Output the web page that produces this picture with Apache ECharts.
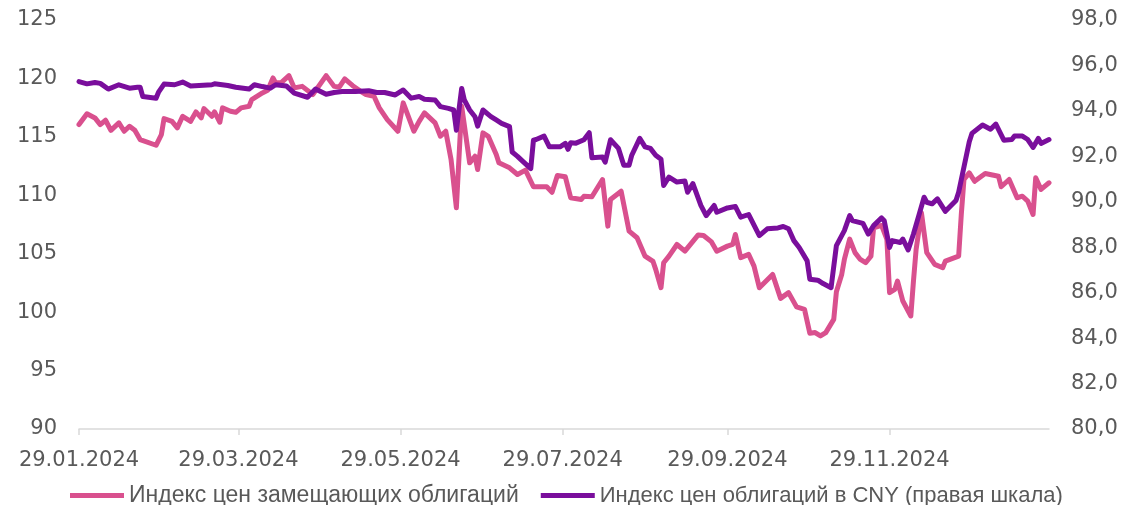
<!DOCTYPE html>
<html>
<head>
<meta charset="utf-8">
<script src="https://cdn.jsdelivr.net/npm/echarts@6/dist/echarts.min.js"></script>
<style>
  html, body { margin: 0; padding: 0; background: #fff; }
  #chart { width: 1125px; height: 505px; }
</style>
</head>
<body>
<div id="chart"></div>
<script>
// подписи оси X
const tickLabels = ['29.01.2024', '29.03.2024', '29.05.2024', '29.07.2024', '29.09.2024', '29.11.2024'];

// Индекс цен замещающих облигаций (левая шкала)
const pinkDates = [
  '29.01.2024','01.02.2024','04.02.2024','06.02.2024','08.02.2024','10.02.2024','13.02.2024','15.02.2024','17.02.2024','19.02.2024',
  '21.02.2024','27.02.2024','29.02.2024','01.03.2024','04.03.2024','06.03.2024','08.03.2024','11.03.2024','13.03.2024','15.03.2024',
  '16.03.2024','19.03.2024','20.03.2024','22.03.2024','23.03.2024','26.03.2024','28.03.2024','30.03.2024','02.04.2024','03.04.2024',
  '07.04.2024','09.04.2024','11.04.2024','12.04.2024','14.04.2024','17.04.2024','19.04.2024','22.04.2024','26.04.2024','01.05.2024',
  '04.05.2024','06.05.2024','08.05.2024','11.05.2024','14.05.2024','16.05.2024','19.05.2024','21.05.2024','24.05.2024','28.05.2024',
  '30.05.2024','03.06.2024','05.06.2024','07.06.2024','11.06.2024','13.06.2024','15.06.2024','17.06.2024','19.06.2024','21.06.2024',
  '24.06.2024','26.06.2024','27.06.2024','29.06.2024','01.07.2024','04.07.2024','05.07.2024','09.07.2024','12.07.2024','15.07.2024',
  '18.07.2024','23.07.2024','25.07.2024','27.07.2024','30.07.2024','01.08.2024','05.08.2024','06.08.2024','09.08.2024','13.08.2024',
  '15.08.2024','16.08.2024','20.08.2024','23.08.2024','26.08.2024','29.08.2024','01.09.2024','02.09.2024','04.09.2024','05.09.2024',
  '07.09.2024','10.09.2024','13.09.2024','18.09.2024','20.09.2024','23.09.2024','25.09.2024','29.09.2024','01.10.2024','02.10.2024',
  '04.10.2024','07.10.2024','09.10.2024','11.10.2024','16.10.2024','19.10.2024','22.10.2024','25.10.2024','28.10.2024','30.10.2024',
  '01.11.2024','03.11.2024','05.11.2024','08.11.2024','09.11.2024','11.11.2024','12.11.2024','14.11.2024','16.11.2024','18.11.2024',
  '20.11.2024','22.11.2024','23.11.2024','26.11.2024','28.11.2024','29.11.2024','01.12.2024','02.12.2024','04.12.2024','07.12.2024',
  '08.12.2024','09.12.2024','11.12.2024','13.12.2024','16.12.2024','19.12.2024','20.12.2024','25.12.2024','26.12.2024','27.12.2024',
  '29.12.2024','31.12.2024','04.01.2025','09.01.2025','10.01.2025','13.01.2025','16.01.2025','18.01.2025','20.01.2025','22.01.2025',
  '23.01.2025','25.01.2025','28.01.2025'
];
const pinkValues = [
  116.05,116.97,116.62,116.05,116.42,115.56,116.2,115.48,115.91,115.56,
  114.77,114.28,115.2,116.56,116.33,115.77,116.76,116.33,117.14,116.62,
  117.42,116.76,117.14,116.25,117.48,117.19,117.1,117.48,117.62,118.19,
  118.76,118.98,120.04,119.62,119.62,120.24,119.19,119.32,118.62,120.24,
  119.32,119.27,119.96,119.38,118.9,118.62,118.47,117.48,116.48,115.48,
  117.91,115.48,116.33,117.05,116.2,115.05,115.48,113.06,108.93,117.62,
  112.78,113.34,112.2,115.34,115.05,113.49,112.78,112.35,111.78,112.15,
  110.73,110.73,110.26,111.69,111.58,109.79,109.64,109.92,109.87,111.35,
  107.36,109.64,110.35,106.93,106.37,104.79,104.34,103.66,102.09,104.23,
  104.79,105.79,105.22,106.61,106.56,106.01,105.22,105.65,105.79,106.65,
  104.66,104.94,103.94,102.09,103.23,101.18,101.67,100.45,100.24,98.19,
  98.25,97.96,98.25,99.38,101.74,103.23,104.51,106.25,105.09,104.51,
  104.23,104.79,107.22,107.42,106.22,101.67,101.95,102.66,100.95,99.67,
  102.66,105.37,108.5,105.09,104.09,103.8,104.37,104.79,108.36,111.35,
  111.92,111.2,111.86,111.63,110.73,111.35,109.79,109.92,109.5,108.36,
  111.5,110.5,111.07
];

// Индекс цен облигаций в CNY (правая шкала)
const cnyDates = [
  '29.01.2024','01.02.2024','04.02.2024','06.02.2024','09.02.2024','13.02.2024','17.02.2024','20.02.2024','21.02.2024','22.02.2024',
  '27.02.2024','28.02.2024','01.03.2024','05.03.2024','08.03.2024','11.03.2024','19.03.2024','20.03.2024','25.03.2024','28.03.2024',
  '02.04.2024','04.04.2024','07.04.2024','10.04.2024','12.04.2024','16.04.2024','19.04.2024','24.04.2024','27.04.2024','01.05.2024',
  '04.05.2024','07.05.2024','12.05.2024','17.05.2024','20.05.2024','23.05.2024','27.05.2024','30.05.2024','02.06.2024','05.06.2024',
  '07.06.2024','11.06.2024','13.06.2024','16.06.2024','18.06.2024','19.06.2024','21.06.2024','22.06.2024','24.06.2024','26.06.2024',
  '27.06.2024','29.06.2024','02.07.2024','04.07.2024','06.07.2024','09.07.2024','10.07.2024','12.07.2024','14.07.2024','17.07.2024',
  '18.07.2024','19.07.2024','22.07.2024','24.07.2024','28.07.2024','30.07.2024','31.07.2024','01.08.2024','03.08.2024','06.08.2024',
  '08.08.2024','09.08.2024','13.08.2024','14.08.2024','16.08.2024','19.08.2024','21.08.2024','23.08.2024','24.08.2024','27.08.2024',
  '29.08.2024','31.08.2024','02.09.2024','04.09.2024','05.09.2024','07.09.2024','10.09.2024','13.09.2024','14.09.2024','16.09.2024',
  '19.09.2024','21.09.2024','24.09.2024','25.09.2024','29.09.2024','02.10.2024','04.10.2024','07.10.2024','11.10.2024','14.10.2024',
  '18.10.2024','20.10.2024','22.10.2024','24.10.2024','26.10.2024','29.10.2024','30.10.2024','02.11.2024','04.11.2024','07.11.2024',
  '09.11.2024','12.11.2024','14.11.2024','15.11.2024','19.11.2024','21.11.2024','23.11.2024','26.11.2024','27.11.2024','29.11.2024',
  '30.11.2024','03.12.2024','04.12.2024','06.12.2024','08.12.2024','10.12.2024','12.12.2024','13.12.2024','15.12.2024','17.12.2024',
  '20.12.2024','24.12.2024','25.12.2024','27.12.2024','29.12.2024','30.12.2024','03.01.2025','06.01.2025','08.01.2025','11.01.2025',
  '14.01.2025','15.01.2025','18.01.2025','20.01.2025','22.01.2025','24.01.2025','25.01.2025','28.01.2025'
];
const cnyValues = [
  95.29,95.19,95.25,95.21,94.96,95.15,95.0,95.04,95.04,94.63,
  94.56,94.84,95.18,95.15,95.27,95.1,95.15,95.19,95.12,95.04,
  94.96,95.15,95.07,95.0,95.15,95.1,94.78,94.6,94.96,94.73,
  94.81,94.85,94.85,94.89,94.81,94.81,94.7,94.92,94.56,94.63,
  94.51,94.48,94.19,94.11,94.04,93.15,94.99,94.48,94.04,93.74,
  93.33,94.04,93.75,93.6,93.45,93.31,92.19,92.0,91.78,91.46,
  92.71,92.74,92.89,92.42,92.42,92.57,92.31,92.6,92.58,92.73,
  93.04,91.94,91.97,91.74,92.73,92.35,91.61,91.61,92.05,92.79,
  92.42,92.35,92.05,91.87,90.72,91.09,90.87,90.91,90.42,90.8,
  89.84,89.39,89.84,89.54,89.73,89.79,89.32,89.44,88.51,88.81,
  88.85,88.91,88.81,88.29,87.99,87.4,86.59,86.55,86.4,86.22,
  88.07,88.73,89.39,89.17,89.05,88.58,88.95,89.29,89.17,87.99,
  88.29,88.21,88.36,87.88,88.58,89.39,90.2,89.98,89.91,90.13,
  89.58,90.06,90.42,91.53,92.64,93.01,93.38,93.19,93.42,92.71,
  92.74,92.89,92.89,92.74,92.39,92.79,92.57,92.74
];

// календарные дни оси X: 29.01.2024 - 28.01.2025
const pad = n => (n < 10 ? '0' : '') + n;
const categories = [];
for (let d = new Date(2024, 0, 29); d <= new Date(2025, 0, 28); d.setDate(d.getDate() + 1)) {
  categories.push(pad(d.getDate()) + '.' + pad(d.getMonth() + 1) + '.' + d.getFullYear());
}

const isTick = (idx, value) => tickLabels.includes(value);
const labelFont = { color: '#595959', fontSize: 21, fontFamily: 'DejaVu Sans' };

const chart = echarts.init(document.getElementById('chart'));
chart.setOption({
  animation: false,
  grid: { left: 79, right: 76, top: 20, bottom: 76, containLabel: false, outerBoundsMode: 'none' },
  legend: {
    left: 65,
    top: 479,
    icon: 'rect',
    itemWidth: 54,
    itemHeight: 5,
    itemGap: 22,
    textStyle: { color: '#595959', fontSize: 23, fontFamily: 'Liberation Sans' },
    data: [
      'Индекс цен замещающих облигаций',
      { name: 'Индекс цен облигаций в CNY (правая шкала)', textStyle: { fontSize: 22 } }
    ]
  },
  xAxis: {
    type: 'category',
    data: categories,
    boundaryGap: false,
    axisLine: { lineStyle: { color: '#d9d9d9', width: 1.5 } },
    axisTick: { interval: isTick, length: 6, lineStyle: { color: '#d9d9d9', width: 1.5 } },
    axisLabel: Object.assign({ interval: isTick, margin: 21 }, labelFont),
    splitLine: { show: false }
  },
  yAxis: [
    {
      type: 'value', min: 90, max: 125, interval: 5,
      axisLine: { show: false }, axisTick: { show: false }, splitLine: { show: false },
      axisLabel: Object.assign({ margin: 22 }, labelFont)
    },
    {
      type: 'value', min: 80, max: 98, interval: 2,
      axisLine: { show: false }, axisTick: { show: false }, splitLine: { show: false },
      axisLabel: Object.assign({ margin: 22, formatter: v => v.toFixed(1).replace('.', ',') }, labelFont)
    }
  ],
  series: [
    {
      name: 'Индекс цен замещающих облигаций',
      type: 'line',
      yAxisIndex: 0,
      showSymbol: false,
      color: '#D9508E',
      lineStyle: { width: 5, color: '#D9508E', cap: 'round', join: 'round' },
      data: pinkDates.map((d, i) => [d, pinkValues[i]])
    },
    {
      name: 'Индекс цен облигаций в CNY (правая шкала)',
      type: 'line',
      yAxisIndex: 1,
      showSymbol: false,
      color: '#7A0E9C',
      lineStyle: { width: 5, color: '#7A0E9C', cap: 'round', join: 'round' },
      data: cnyDates.map((d, i) => [d, cnyValues[i]])
    }
  ]
});
</script>
</body>
</html>
